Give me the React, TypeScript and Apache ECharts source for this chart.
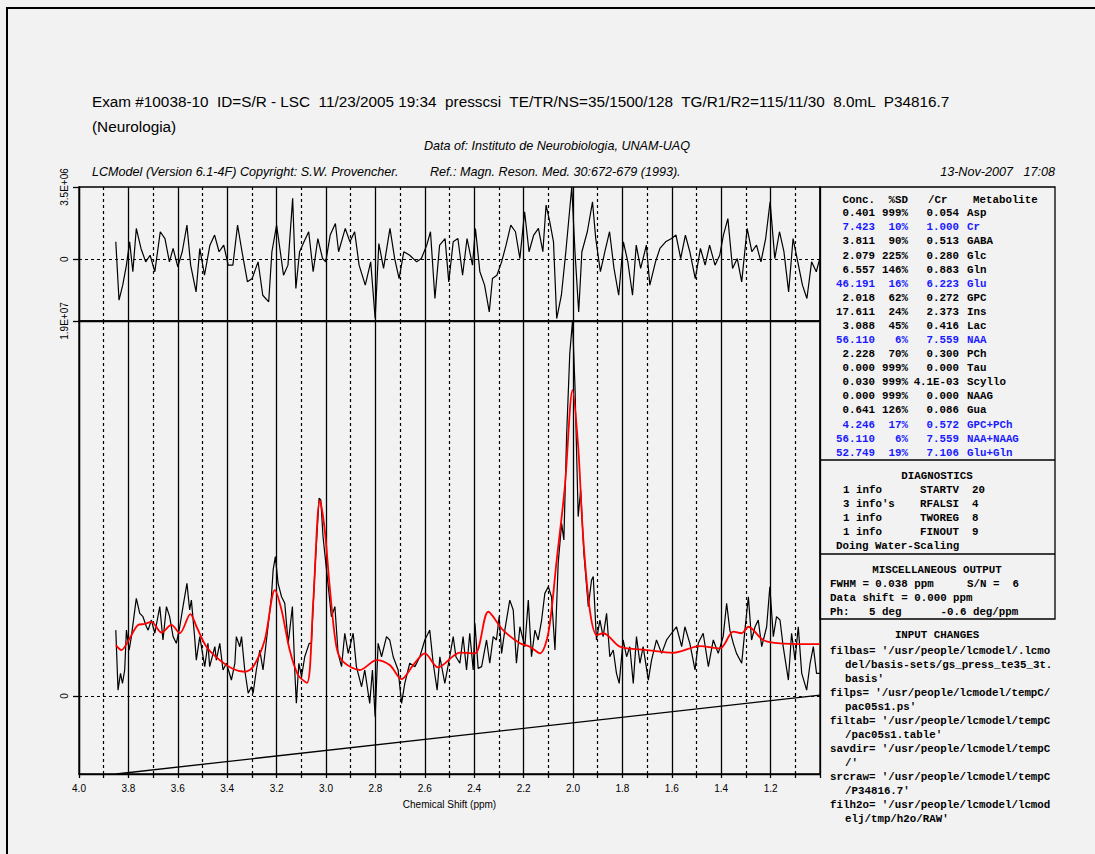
import React, { useEffect, useRef } from "react";
import * as echarts from "echarts";

// ---------- header texts ----------
const examLine =
  "Exam #10038-10  ID=S/R - LSC  11/23/2005 19:34  presscsi  TE/TR/NS=35/1500/128  TG/R1/R2=115/11/30  8.0mL  P34816.7";
const deptLine = "(Neurologia)";
const dataOfLine = "Data of: Instituto de Neurobiologia, UNAM-UAQ";
const versionLine = "LCModel (Version 6.1-4F) Copyright: S.W. Provencher.";
const refLine = "Ref.: Magn. Reson. Med. 30:672-679 (1993).";
const dateLine = "13-Nov-2007   17:08";

// ---------- axis tick labels ----------
const xAxisName = "Chemical Shift (ppm)";
const residTickValues = [0, 3.5];
const residTickLabels = ["0", "3.5E+06"];
const mainTickValues = [0, 19];
const mainTickLabels = ["0", "1.9E+07"];

// ---------- metabolite table ----------
const tableHeader = ["Conc.", "%SD", "/Cr", "Metabolite"];
const metConc = ["0.401", "7.423", "3.811", "2.079", "6.557", "46.191", "2.018", "17.611", "3.088", "56.110", "2.228", "0.000", "0.030", "0.000", "0.641", "4.246", "56.110", "52.749"];
const metSD = ["999%", "10%", "90%", "225%", "146%", "16%", "62%", "24%", "45%", "6%", "70%", "999%", "999%", "999%", "126%", "17%", "6%", "19%"];
const metRatio = ["0.054", "1.000", "0.513", "0.280", "0.883", "6.223", "0.272", "2.373", "0.416", "7.559", "0.300", "0.000", "4.1E-03", "0.000", "0.086", "0.572", "7.559", "7.106"];
const metNames = ["Asp", "Cr", "GABA", "Glc", "Gln", "Glu", "GPC", "Ins", "Lac", "NAA", "PCh", "Tau", "Scyllo", "NAAG", "Gua", "GPC+PCh", "NAA+NAAG", "Glu+Gln"];
const metBlue = [false, true, false, false, false, true, false, false, false, true, false, false, false, false, false, true, true, true];

// ---------- diagnostics / misc / input ----------
const diagTitle = "DIAGNOSTICS";
const diagLeft = ["1 info", "3 info's", "1 info", "1 info"];
const diagRoutine = ["STARTV", "RFALSI", "TWOREG", "FINOUT"];
const diagCode = ["20", "4", "8", "9"];
const diagLast = "Doing Water-Scaling";
const miscTitle = "MISCELLANEOUS OUTPUT";
const inputTitle = "INPUT CHANGES";
const inputLines = [
  "filbas= '/usr/people/lcmodel/.lcmo",
  "del/basis-sets/gs_press_te35_3t.",
  "basis'",
  "filps= '/usr/people/lcmodel/tempC/",
  "pac05s1.ps'",
  "filtab= '/usr/people/lcmodel/tempC",
  "/pac05s1.table'",
  "savdir= '/usr/people/lcmodel/tempC",
  "/'",
  "srcraw= '/usr/people/lcmodel/tempC",
  "/P34816.7'",
  "filh2o= '/usr/people/lcmodel/lcmod",
  "elj/tmp/h2o/RAW'",
];
const inputIndent = [false, true, true, false, true, false, true, false, true, false, true, false, true];

// ---------- spectrum data (values in units of 1E+06) ----------
const dataPpm = [
  3.851, 3.842, 3.832, 3.824, 3.815, 3.808, 3.797, 3.788, 3.768, 3.754, 3.741, 3.727, 3.72, 3.707, 3.693, 3.673, 3.66, 3.646, 3.633, 3.619,
  3.606, 3.592, 3.579, 3.563, 3.552, 3.545, 3.532, 3.525, 3.511, 3.491, 3.478, 3.471, 3.45, 3.444, 3.43, 3.417, 3.403, 3.383, 3.369, 3.363,
  3.349, 3.342, 3.329, 3.315, 3.302, 3.295, 3.282, 3.268, 3.255, 3.241, 3.221, 3.214, 3.205, 3.194, 3.18, 3.167, 3.153, 3.136, 3.126, 3.12,
  3.11, 3.099, 3.086, 3.068, 3.059, 3.045, 3.028, 3.021, 3.012, 2.995, 2.978, 2.964, 2.951, 2.937, 2.924, 2.91, 2.89, 2.877, 2.856, 2.843,
  2.823, 2.812, 2.801, 2.789, 2.775, 2.755, 2.742, 2.728, 2.708, 2.694, 2.681, 2.661, 2.64, 2.62, 2.6, 2.58, 2.566, 2.55, 2.539, 2.519,
  2.499, 2.485, 2.474,
  2.458, 2.445, 2.431, 2.418, 2.404, 2.397, 2.384, 2.37, 2.35, 2.337, 2.323, 2.31, 2.299, 2.289, 2.276, 2.256, 2.242, 2.229, 2.215, 2.195,
  2.181, 2.168, 2.154, 2.141, 2.127, 2.114, 2.1, 2.087, 2.073, 2.06, 2.046, 2.037, 2.026, 2.013, 2.002, 1.992, 1.979, 1.969, 1.956, 1.938,
  1.925, 1.918, 1.905, 1.891, 1.878, 1.864, 1.851, 1.837, 1.824, 1.813, 1.797, 1.783, 1.77, 1.756, 1.743, 1.729, 1.716, 1.695, 1.682, 1.662,
  1.641, 1.621, 1.601, 1.581, 1.56, 1.547, 1.527, 1.506, 1.493, 1.473, 1.452, 1.432, 1.412, 1.392, 1.378, 1.365, 1.351, 1.338, 1.317, 1.304,
  1.29, 1.277, 1.263, 1.25, 1.236, 1.216, 1.203, 1.189, 1.176, 1.162, 1.149, 1.128, 1.115, 1.101, 1.088, 1.074, 1.054, 1.04, 1.027, 1.014, 1.0,
];
const dataVal = [
  3.34, 0.3, 1.15, 0.64, 1.32, 3.34, 2.33, 3.01, 4.95, 4.19, 4.02, 3.51, 3.34, 3.85, 3.18, 4.53, 2.84, 4.53, 4.02, 3.01,
  2.67, 3.51, 4.53, 5.71, 4.36, 4.86, 3.01, 1.82, 3.01, 1.49, 2.67, 1.49, 2.5, 1.82, 2.67, 1.32, 1.66, 0.81, 1.66, 3.01,
  2.5, 3.01, 1.32, 0.14, 0.47, 0.14, 1.32, 2.33, 1.32, 2.84, 5.03, 6.39, 7.06, 5.71, 5.03, 4.7, 2.67, 4.53, 1.15, -0.37,
  1.66, 0.98, 1.99, 2.67, 2.67, 6.39, 10.02, 9.93, 8.07, 6.05, 4.02, 4.53, 2.16, 1.49, 3.18, 2.16, 3.18, 1.49, 0.47, 1.32,
  -0.37, 1.32, -1.05, 2.67, 1.99, 3.01, 2.84, 1.99, 1.32, -0.37, 0.64, 1.66, 1.49, 1.99, 2.84, 3.34, 1.66, 0.3, 1.99, 0.64,
  1.99, 3.01, 1.99,
  1.66, 3.01, 1.32, 3.18, 1.32, 3.68, 1.4, 1.49, 2.84, 1.66, 3.01, 2.84, 4.02, 2.16, 3.34, 4.86, 4.36, 1.66, 3.51, 2.5,
  4.86, 1.99, 3.34, 2.84, 3.85, 5.2, 5.54, 5.03, 2.33, 6.72, 8.75, 7.91, 13.14, 17.36, 19.0, 15.68, 9.09, 10.44, 7.23, 4.53,
  5.88, 6.05, 2.84, 3.85, 3.01, 4.19, 1.99, 2.33, 1.15, 0.64, 2.84, 1.99, 2.5, 0.64, 3.01, 1.66, 2.5, 0.81, 1.82, 2.84,
  2.16, 2.84, 3.18, 3.51, 2.5, 3.51, 2.67, 1.32, 2.67, 3.18, 1.49, 2.84, 2.16, 3.01, 4.7, 3.34, 2.67, 2.16, 1.66, 3.34,
  5.03, 2.84, 3.51, 3.85, 2.5, 3.51, 5.54, 3.01, 4.02, 3.85, 2.5, 0.81, 3.18, 1.82, 3.51, 1.15, 0.3, 1.66, 2.5, 1.15, 1.15,
];

const fitPpm = [
  3.851, 3.828, 3.795, 3.761, 3.734, 3.707, 3.666, 3.626, 3.592, 3.549, 3.524, 3.484, 3.43, 3.376, 3.329, 3.295, 3.248, 3.207, 3.18, 3.147,
  3.113, 3.077, 3.052, 3.025, 3.005, 2.985, 2.958, 2.931, 2.863, 2.796, 2.742, 2.694, 2.647, 2.6, 2.546, 2.458, 2.397, 2.343, 2.283, 2.215,
  2.175, 2.134, 2.1, 2.066, 2.033, 2.002, 1.979, 1.959, 1.932, 1.904, 1.877, 1.81, 1.702, 1.594, 1.486, 1.405, 1.351, 1.317, 1.29, 1.23,
  1.162, 1.0,
];
const fitVal = [
  2.58, 2.33, 2.92, 3.6, 3.65, 3.76, 3.21, 3.6, 3.18, 4.15, 3.51, 2.5, 1.82, 1.37, 1.23, 1.48, 2.84, 5.37, 4.36, 2.33,
  1.06, 0.67, 4.7, 9.93, 8.41, 5.54, 2.5, 1.74, 1.32, 1.82, 1.57, 0.86, 1.57, 2.16, 1.45, 2.2, 2.16, 4.27, 3.34, 2.67,
  2.5, 2.16, 3.18, 6.89, 10.6, 15.5, 12.63, 8.07, 4.36, 3.09, 3.18, 2.5, 2.33, 2.19, 2.53, 2.41, 3.26, 3.18, 3.51, 2.84,
  2.67, 2.63,
];

const baselinePpm = [3.85, 1.0];
const baselineVal = [-3.95, 0.05];

const residPpm = [
  3.851, 3.838, 3.823, 3.808, 3.795, 3.782, 3.768, 3.749, 3.73, 3.712, 3.693, 3.671, 3.652, 3.634, 3.619, 3.6, 3.582, 3.563, 3.548, 3.526,
  3.511, 3.492, 3.47, 3.451, 3.433, 3.414, 3.396, 3.377, 3.358, 3.34, 3.318, 3.299, 3.275, 3.256, 3.232, 3.219, 3.2, 3.185, 3.172, 3.154,
  3.135, 3.122, 3.107, 3.089, 3.07, 3.052, 3.033, 3.014, 3.001, 2.983, 2.962, 2.949, 2.922, 2.903, 2.884, 2.866, 2.841, 2.819, 2.801, 2.786,
  2.767, 2.741, 2.722, 2.704, 2.685, 2.661, 2.633, 2.614, 2.592, 2.577, 2.559, 2.54, 2.518, 2.503, 2.485, 2.466, 2.447, 2.429, 2.407, 2.395,
  2.377, 2.358, 2.339, 2.326, 2.308, 2.289, 2.271, 2.252, 2.233, 2.215, 2.196, 2.178, 2.159, 2.14, 2.122, 2.109, 2.094, 2.079, 2.066, 2.047,
  2.029, 2.005, 1.992, 1.977, 1.964, 1.942, 1.921, 1.908, 1.889, 1.871, 1.852, 1.834, 1.815, 1.796, 1.778, 1.759, 1.744, 1.726, 1.703, 1.689,
  1.666, 1.648, 1.625, 1.601, 1.583, 1.564, 1.545, 1.527, 1.505, 1.484, 1.465, 1.447, 1.425, 1.406, 1.391, 1.373, 1.354, 1.335, 1.317, 1.295,
  1.276, 1.257, 1.239, 1.22, 1.202, 1.183, 1.164, 1.146, 1.127, 1.109, 1.09, 1.071, 1.053, 1.034, 1.015, 1.001,
];
const residVal = [
  0.84, -1.99, -1.26, -0.29, 0.84, -0.61, 1.49, 0.52, -0.13, 0.19, -0.61, 1.33, 1.0, -0.13, 0.52, -0.37, 0.36, 1.65, -0.29, -1.59,
  0.52, -0.78, 0.68, 1.17, 0.36, 0.68, -0.29, -0.29, 1.65, 0.36, -1.1, -0.94, -0.13, -1.75, -2.07, 0.36, 1.65, 0.36, -0.78, -0.29,
  2.95, -1.42, 0.36, 0.84, 1.33, -0.61, 1.0, 0.03, -0.13, 1.17, 1.73, 0.36, 1.49, 0.84, 1.33, -0.29, -1.26, -0.13, -2.88, 0.76,
  -0.45, 1.49, 0.03, -0.94, 0.36, 0.19, -0.13, 0.03, 0.68, 1.33, -1.91, 0.68, 1.0, -1.1, 0.84, 1.0, -0.78, 1.0, -0.29, 1.49,
  -0.61, -1.26, -2.56, -0.94, -0.78, -0.13, 0.68, 1.65, 1.33, 0.03, 2.3, 0.36, 1.17, 1.49, 0.36, 2.62, 1.81, 0.84, -2.88, -1.75,
  0.36, 3.5, 0.36, -2.56, 0.36, 1.33, 2.78, 1.0, -0.61, 0.36, 1.33, -0.45, -1.75, 0.84, -0.13, -1.75, 0.68, -0.45, 0.68, -1.26,
  -0.13, 0.52, 0.84, 1.0, 1.17, 0.03, 1.17, 0.36, -0.94, 0.52, -0.29, 0.68, -0.29, 0.19, 1.17, 1.97, -0.45, 0.03, -1.1, 1.49,
  0.36, 0.68, -0.13, 1.0, 2.78, 0.03, 1.33, 0.36, -1.59, 1.0, -0.13, -1.26, -1.91, -0.13, -0.61, 0.03,
];

const pairs = (xs: number[], ys: number[]) => xs.map((x, i) => [x, ys[i]]);

const MONO = "'Liberation Mono', 'DejaVu Sans Mono', monospace";
const SANS = "'Liberation Sans', Arial, sans-serif";

function txt(text: string, x: number, y: number, opts: any = {}) {
  const align = opts.align || "left";
  return {
    type: "text",
    silent: true,
    style: {
      text,
      x,
      y,
      fill: opts.fill || "#000",
      font: opts.font || `11px ${SANS}`,
      align,
      textAlign: align,
      verticalAlign: "middle",
      textVerticalAlign: "middle",
    },
  };
}

function buildGraphics() {
  const g: any[] = [];
  // outer frame
  g.push({ type: "rect", silent: true, shape: { x: 7, y: 8, width: 1200, height: 1000 }, style: { fill: "none", stroke: "#000", lineWidth: 2 } });
  // header
  g.push(txt(examLine, 92, 101, { font: `15.3px ${SANS}` }));
  g.push(txt(deptLine, 92, 126, { font: `15.3px ${SANS}` }));
  g.push(txt(dataOfLine, 557, 146, { font: `italic 12.6px ${SANS}`, align: "center" }));
  g.push(txt(versionLine, 92, 172, { font: `italic 12.6px ${SANS}` }));
  g.push(txt(refLine, 430, 172, { font: `italic 12.6px ${SANS}` }));
  g.push(txt(dateLine, 1055, 172, { font: `italic 12.6px ${SANS}`, align: "right" }));

  // right panel boxes
  const L = 820, R = 1055;
  g.push({ type: "rect", silent: true, shape: { x: L, y: 187, width: R - L, height: 432 }, style: { fill: "none", stroke: "#000", lineWidth: 1.3 } });
  [460, 554].forEach((y) => g.push({ type: "line", silent: true, shape: { x1: L, y1: y, x2: R, y2: y }, style: { stroke: "#000", lineWidth: 1.3 } }));

  const mf = `bold 10.8px ${MONO}`;
  // table header
  g.push(txt(tableHeader[0], 875, 199.7, { font: mf, align: "right" }));
  g.push(txt(tableHeader[1], 908, 199.7, { font: mf, align: "right" }));
  g.push(txt(tableHeader[2], 928, 199.7, { font: mf }));
  g.push(txt(tableHeader[3], 973, 199.7, { font: mf }));
  metNames.forEach((name, i) => {
    const y = 213.3 + 14.08 * i;
    const fill = metBlue[i] ? "#1a1aff" : "#000";
    g.push(txt(metConc[i], 875, y, { font: mf, align: "right", fill }));
    g.push(txt(metSD[i], 908, y, { font: mf, align: "right", fill }));
    g.push(txt(metRatio[i], 959, y, { font: mf, align: "right", fill }));
    g.push(txt(name, 967, y, { font: mf, fill }));
  });

  // diagnostics
  g.push(txt(diagTitle, 937, 475.7, { font: mf, align: "center" }));
  diagLeft.forEach((s, i) => {
    const y = 489.7 + 14 * i;
    g.push(txt(s, 843, y, { font: mf }));
    g.push(txt(diagRoutine[i], 920, y, { font: mf }));
    g.push(txt(diagCode[i], 972, y, { font: mf }));
  });
  g.push(txt(diagLast, 836, 545.5, { font: mf }));

  // misc output
  g.push(txt(miscTitle, 937, 570, { font: mf, align: "center" }));
  g.push(txt("FWHM = 0.038 ppm", 830, 584.3, { font: mf }));
  g.push(txt("S/N =", 967, 584.3, { font: mf }));
  g.push(txt("6", 1012.5, 584.3, { font: mf }));
  g.push(txt("Data shift = 0.000 ppm", 830, 598.3, { font: mf }));
  g.push(txt("Ph:", 830, 612.3, { font: mf }));
  g.push(txt("5 deg", 869, 612.3, { font: mf }));
  g.push(txt("-0.6 deg/ppm", 940.5, 612.3, { font: mf }));

  // input changes
  g.push(txt(inputTitle, 937, 635, { font: mf, align: "center" }));
  inputLines.forEach((s, i) => {
    g.push(txt(s, inputIndent[i] ? 845 : 830, 650.7 + 14 * i, { font: mf }));
  });
  return g;
}

const xLabelFmt = (v: number) => (Math.abs(v - 1.0) < 1e-6 ? "" : v.toFixed(1));

function xAxisFor(gridIndex: number, showLabels: boolean) {
  return {
    type: "value",
    gridIndex,
    min: 1.0,
    max: 4.0,
    interval: 0.2,
    inverse: true,
    name: showLabels ? xAxisName : "",
    nameLocation: "middle",
    nameGap: 25,
    nameTextStyle: { color: "#000", fontSize: 10, fontFamily: SANS },
    axisLine: { show: true, onZero: false, lineStyle: { color: "#000", width: 1.3 } },
    axisTick: { show: showLabels, length: 4, lineStyle: { color: "#000", width: 1.3 } },
    minorTick: { show: showLabels, splitNumber: 2, length: 4, lineStyle: { color: "#000", width: 1.3 } },
    axisLabel: { show: showLabels, formatter: xLabelFmt, margin: 9, color: "#000", fontSize: 10, fontFamily: SANS },
    splitLine: { show: true, lineStyle: { color: "#000", width: 1.3 } },
    minorSplitLine: { show: true, lineStyle: { color: "#000", width: 1.2, type: [3, 3] } },
  };
}

function yAxisFor(gridIndex: number, min: number, max: number, vals: number[], labels: string[]) {
  return {
    type: "value",
    gridIndex,
    min,
    max,
    axisLine: { show: true, onZero: false, lineStyle: { color: "#000", width: 1.3 } },
    axisTick: { show: true, customValues: vals, length: 6, lineStyle: { color: "#000", width: 1.3 } },
    axisLabel: {
      show: true,
      customValues: vals,
      rotate: 90,
      margin: 10,
      color: "#000",
      fontSize: 10,
      fontFamily: SANS,
      formatter: (v: number) => {
        const idx = vals.findIndex((t) => Math.abs(t - v) < 1e-6);
        return idx >= 0 ? labels[idx] : "";
      },
    },
    splitLine: { show: false },
  };
}

const zeroMark = {
  silent: true,
  symbol: ["none", "none"],
  label: { show: false },
  lineStyle: { color: "#000", width: 1.2, type: [3, 3] },
  data: [{ yAxis: 0 }],
};

export default function App() {
  const ref = useRef<HTMLDivElement>(null);
  useEffect(() => {
    if (!ref.current) return;
    const chart = echarts.init(ref.current, undefined, { renderer: "svg" });
    chart.setOption({
      animation: false,
      backgroundColor: "#f2f2f2",
      grid: [
        { left: 79, top: 187, width: 741, height: 134, show: true, borderColor: "#000", borderWidth: 1.3, backgroundColor: "transparent" },
        { left: 79, top: 321, width: 741, height: 453, show: true, borderColor: "#000", borderWidth: 1.3, backgroundColor: "transparent" },
      ],
      xAxis: [xAxisFor(0, false), xAxisFor(1, true)],
      yAxis: [
        yAxisFor(0, -3.0, 3.5, residTickValues, residTickLabels),
        yAxisFor(1, -3.95, 19, mainTickValues, mainTickLabels),
      ],
      series: [
        {
          type: "line", xAxisIndex: 0, yAxisIndex: 0, data: pairs(residPpm, residVal),
          showSymbol: false, symbol: "none", lineStyle: { color: "#000", width: 1.2 }, markLine: zeroMark, z: 3,
        },
        {
          type: "line", xAxisIndex: 1, yAxisIndex: 1, data: pairs(baselinePpm, baselineVal),
          showSymbol: false, symbol: "none", lineStyle: { color: "#000", width: 1.3 }, z: 3,
        },
        {
          type: "line", xAxisIndex: 1, yAxisIndex: 1, data: pairs(dataPpm, dataVal),
          showSymbol: false, symbol: "none", lineStyle: { color: "#000", width: 1.2 }, markLine: zeroMark, z: 3,
        },
        {
          type: "line", xAxisIndex: 1, yAxisIndex: 1, data: pairs(fitPpm, fitVal), smooth: 0.3,
          showSymbol: false, symbol: "none", lineStyle: { color: "#ff0000", width: 1.8 }, z: 4,
        },
      ],
      graphic: buildGraphics(),
    });
    return () => chart.dispose();
  }, []);
  return <div ref={ref} style={{ position: "absolute", left: 0, top: 0, width: 1095, height: 854 }} />;
}
